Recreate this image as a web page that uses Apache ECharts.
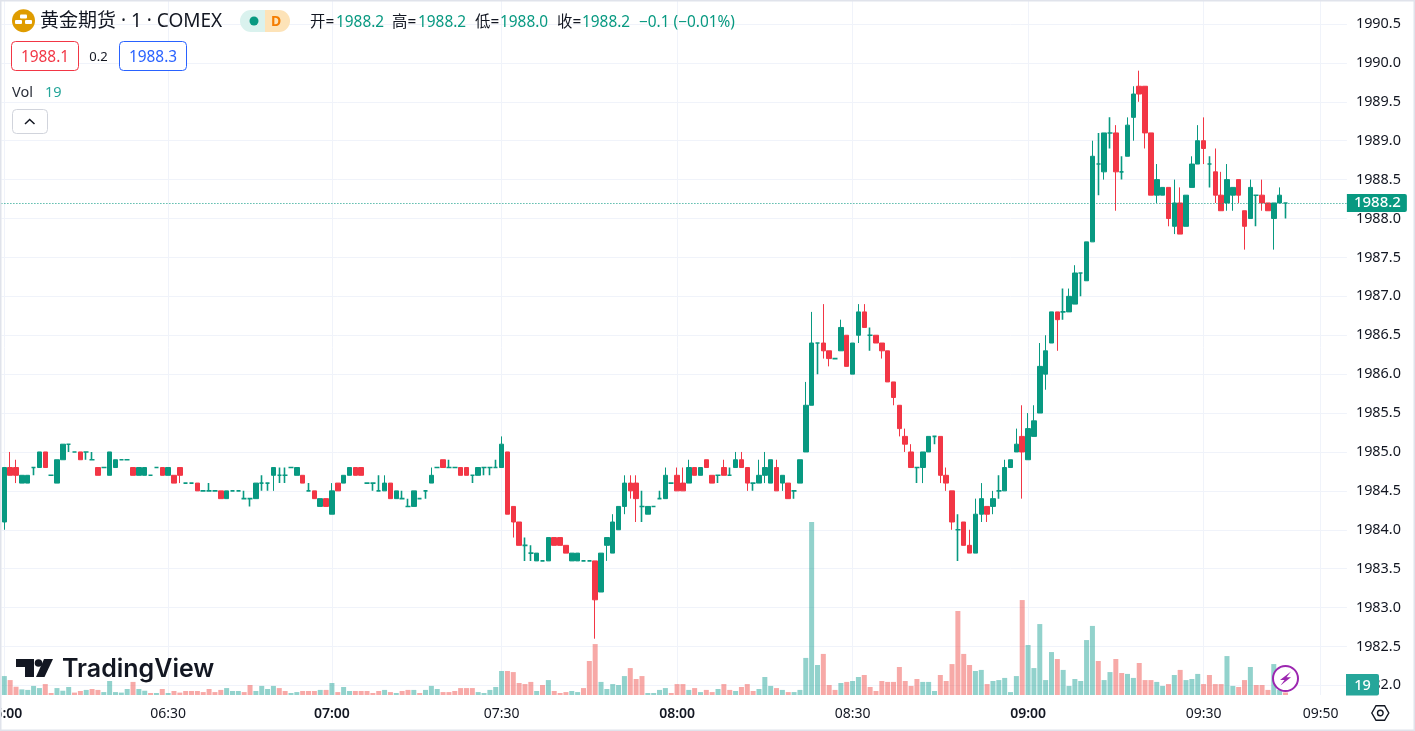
<!DOCTYPE html>
<html><head><meta charset="utf-8">
<style>html,body{margin:0;padding:0;background:#fff;overflow:hidden}#c{width:1415px;height:731px}</style>
<script src="https://cdn.jsdelivr.net/npm/echarts@6/dist/echarts.min.js"></script>
</head><body><div id="c"></div>
<script>
// [open, close, low, high] per one-minute bar
const candles = [
[1984.1,1984.8,1984.0,1984.8],[1984.8,1984.7,1984.7,1985.0],[1984.8,1984.7,1984.6,1984.9],[1984.6,1984.7,1984.6,1984.7],[1984.6,1984.7,1984.6,1984.7],
[1984.8,1984.8,1984.7,1984.8],[1984.8,1985.0,1984.8,1985.0],[1985.0,1984.8,1984.8,1985.0],[1984.7,1984.7,1984.7,1984.7],[1984.6,1984.9,1984.6,1984.9],
[1984.9,1985.1,1984.9,1985.1],[1985.1,1985.1,1985.0,1985.1],[1985.0,1985.0,1985.0,1985.0],[1985.0,1984.9,1984.9,1985.0],[1985.0,1985.0,1984.9,1985.0],
[1984.9,1984.9,1984.9,1985.0],[1984.8,1984.7,1984.7,1984.8],[1984.8,1984.8,1984.8,1984.8],[1984.7,1985.0,1984.7,1985.0],[1984.8,1984.9,1984.8,1984.9],
[1984.9,1984.9,1984.9,1984.9],[1984.9,1984.9,1984.9,1984.9],[1984.8,1984.7,1984.7,1984.8],[1984.7,1984.8,1984.7,1984.8],[1984.7,1984.8,1984.7,1984.8],
[1984.7,1984.7,1984.7,1984.7],[1984.8,1984.8,1984.8,1984.8],[1984.8,1984.7,1984.7,1984.8],[1984.7,1984.8,1984.7,1984.8],[1984.7,1984.6,1984.6,1984.7],
[1984.8,1984.7,1984.6,1984.8],[1984.6,1984.6,1984.6,1984.6],[1984.6,1984.6,1984.6,1984.6],[1984.6,1984.5,1984.5,1984.6],[1984.5,1984.5,1984.5,1984.5],
[1984.5,1984.5,1984.5,1984.6],[1984.5,1984.5,1984.5,1984.5],[1984.5,1984.4,1984.4,1984.5],[1984.4,1984.5,1984.4,1984.5],[1984.5,1984.5,1984.5,1984.5],
[1984.5,1984.5,1984.5,1984.5],[1984.4,1984.4,1984.4,1984.5],[1984.4,1984.4,1984.3,1984.4],[1984.4,1984.6,1984.4,1984.6],[1984.6,1984.6,1984.5,1984.7],
[1984.6,1984.6,1984.5,1984.6],[1984.7,1984.8,1984.5,1984.8],[1984.7,1984.7,1984.6,1984.8],[1984.7,1984.7,1984.6,1984.8],[1984.8,1984.8,1984.8,1984.8],
[1984.7,1984.8,1984.7,1984.8],[1984.7,1984.6,1984.6,1984.7],[1984.5,1984.5,1984.5,1984.6],[1984.5,1984.4,1984.4,1984.5],[1984.3,1984.4,1984.3,1984.4],
[1984.4,1984.3,1984.3,1984.4],[1984.2,1984.5,1984.2,1984.6],[1984.6,1984.5,1984.5,1984.6],[1984.6,1984.7,1984.6,1984.7],[1984.7,1984.8,1984.7,1984.8],
[1984.8,1984.7,1984.7,1984.8],[1984.8,1984.7,1984.7,1984.8],[1984.6,1984.6,1984.6,1984.6],[1984.6,1984.6,1984.5,1984.6],[1984.5,1984.5,1984.5,1984.7],
[1984.5,1984.6,1984.5,1984.7],[1984.6,1984.4,1984.4,1984.6],[1984.4,1984.5,1984.4,1984.5],[1984.4,1984.4,1984.4,1984.5],[1984.3,1984.3,1984.3,1984.4],
[1984.3,1984.5,1984.3,1984.5],[1984.4,1984.4,1984.4,1984.4],[1984.5,1984.5,1984.4,1984.5],[1984.6,1984.7,1984.6,1984.8],[1984.8,1984.8,1984.8,1984.8],
[1984.9,1984.8,1984.8,1984.9],[1984.8,1984.8,1984.8,1984.9],[1984.8,1984.8,1984.8,1984.8],[1984.8,1984.7,1984.7,1984.8],[1984.8,1984.7,1984.7,1984.8],
[1984.7,1984.7,1984.6,1984.7],[1984.7,1984.8,1984.7,1984.8],[1984.8,1984.8,1984.7,1984.8],[1984.8,1984.8,1984.7,1984.8],[1984.8,1984.8,1984.8,1984.9],
[1984.8,1985.1,1984.8,1985.2],[1985.0,1984.2,1984.2,1985.0],[1984.3,1984.1,1983.9,1984.3],[1984.1,1983.8,1983.8,1984.1],[1983.8,1983.8,1983.6,1983.9],
[1983.7,1983.7,1983.6,1983.8],[1983.6,1983.7,1983.6,1983.7],[1983.6,1983.6,1983.6,1983.6],[1983.6,1983.9,1983.6,1983.9],[1983.9,1983.8,1983.8,1983.9],
[1983.9,1983.8,1983.8,1983.9],[1983.8,1983.7,1983.7,1983.8],[1983.6,1983.7,1983.6,1983.7],[1983.6,1983.7,1983.6,1983.7],[1983.6,1983.6,1983.6,1983.6],
[1983.6,1983.6,1983.6,1983.6],[1983.6,1983.1,1982.6,1983.6],[1983.2,1983.7,1983.2,1983.7],[1983.8,1983.9,1983.6,1983.9],[1983.7,1984.1,1983.7,1984.2],
[1984.0,1984.3,1984.0,1984.3],[1984.3,1984.6,1984.2,1984.7],[1984.6,1984.5,1984.4,1984.7],[1984.6,1984.4,1984.1,1984.7],[1984.3,1984.3,1984.1,1984.5],
[1984.2,1984.3,1984.2,1984.3],[1984.3,1984.3,1984.3,1984.3],[1984.4,1984.4,1984.4,1984.5],[1984.4,1984.7,1984.4,1984.8],[1984.6,1984.6,1984.6,1984.6],
[1984.7,1984.5,1984.5,1984.8],[1984.6,1984.5,1984.5,1984.8],[1984.6,1984.8,1984.6,1984.9],[1984.8,1984.7,1984.7,1984.8],[1984.7,1984.8,1984.7,1984.8],
[1984.9,1984.8,1984.8,1984.9],[1984.7,1984.6,1984.6,1984.7],[1984.7,1984.7,1984.6,1984.7],[1984.8,1984.7,1984.7,1984.9],[1984.7,1984.7,1984.7,1984.8],
[1984.8,1984.9,1984.8,1985.0],[1984.9,1984.8,1984.8,1985.0],[1984.8,1984.6,1984.5,1984.8],[1984.6,1984.6,1984.5,1984.6],[1984.6,1984.7,1984.6,1984.9],
[1984.7,1984.8,1984.6,1985.0],[1984.6,1984.9,1984.6,1984.9],[1984.8,1984.5,1984.5,1984.9],[1984.6,1984.7,1984.5,1984.7],[1984.6,1984.4,1984.4,1984.6],
[1984.5,1984.5,1984.4,1984.5],[1984.6,1984.9,1984.6,1984.9],[1985.0,1985.6,1985.0,1985.9],[1985.6,1986.4,1985.6,1986.8],[1986.4,1986.4,1986.0,1986.4],
[1986.4,1986.3,1986.2,1986.9],[1986.3,1986.2,1986.1,1986.3],[1986.2,1986.2,1986.2,1986.2],[1986.3,1986.6,1986.3,1986.7],[1986.5,1986.1,1986.1,1986.5],
[1986.0,1986.4,1986.0,1986.4],[1986.5,1986.8,1986.4,1986.9],[1986.8,1986.6,1986.6,1986.9],[1986.5,1986.5,1986.3,1986.6],[1986.5,1986.4,1986.4,1986.5],
[1986.4,1986.3,1986.2,1986.4],[1986.3,1985.9,1985.9,1986.3],[1985.9,1985.7,1985.6,1985.9],[1985.6,1985.3,1985.2,1985.6],[1985.2,1985.1,1985.0,1985.3],
[1985.0,1984.8,1984.8,1985.1],[1984.8,1984.8,1984.6,1984.8],[1984.8,1985.0,1984.6,1985.0],[1985.0,1985.2,1985.0,1985.2],[1985.2,1985.2,1985.1,1985.2],
[1985.2,1984.7,1984.6,1985.2],[1984.7,1984.6,1984.5,1984.8],[1984.5,1984.1,1984.0,1984.5],[1984.0,1984.0,1983.6,1984.2],[1984.1,1983.8,1983.8,1984.1],
[1983.8,1983.7,1983.7,1984.0],[1983.7,1984.2,1983.7,1984.4],[1984.2,1984.4,1984.1,1984.6],[1984.3,1984.2,1984.1,1984.3],[1984.3,1984.4,1984.2,1984.5],
[1984.5,1984.5,1984.4,1984.7],[1984.5,1984.8,1984.5,1984.9],[1984.8,1984.9,1984.8,1984.9],[1985.0,1985.1,1985.0,1985.3],[1985.2,1985.0,1984.4,1985.6],
[1984.9,1985.3,1984.9,1985.5],[1985.2,1985.4,1985.2,1985.6],[1985.5,1986.1,1985.5,1986.4],[1986.0,1986.3,1985.8,1986.5],[1986.4,1986.8,1986.4,1986.8],
[1986.8,1986.7,1986.3,1986.8],[1986.8,1986.8,1986.7,1987.1],[1986.8,1987.0,1986.8,1987.1],[1986.9,1987.3,1986.9,1987.4],[1987.3,1987.3,1987.0,1987.3],
[1987.2,1987.7,1987.2,1987.7],[1987.7,1988.8,1987.7,1989.0],[1988.7,1988.7,1988.3,1989.1],[1988.6,1989.1,1988.5,1989.1],[1989.1,1989.1,1988.9,1989.3],
[1989.1,1988.6,1988.1,1989.2],[1988.6,1988.6,1988.5,1988.8],[1988.8,1989.2,1988.8,1989.3],[1989.3,1989.6,1989.0,1989.7],[1989.7,1989.6,1989.5,1989.9],
[1989.7,1989.1,1988.9,1989.7],[1989.1,1988.3,1988.3,1989.1],[1988.3,1988.5,1988.2,1988.7],[1988.3,1988.4,1988.3,1988.4],[1988.4,1988.0,1987.9,1988.4],
[1987.9,1988.2,1987.8,1988.5],[1988.2,1987.8,1987.8,1988.4],[1987.9,1988.3,1987.9,1988.3],[1988.4,1988.7,1988.4,1988.8],[1988.7,1989.0,1988.7,1989.2],
[1989.0,1988.9,1988.7,1989.3],[1988.7,1988.7,1988.4,1988.8],[1988.6,1988.3,1988.2,1988.9],[1988.3,1988.1,1988.1,1988.6],[1988.2,1988.5,1988.1,1988.7],
[1988.3,1988.4,1988.1,1988.4],[1988.5,1988.3,1988.2,1988.5],[1988.1,1987.9,1987.6,1988.1],[1988.0,1988.4,1988.0,1988.5],[1988.3,1988.3,1987.9,1988.3],
[1988.3,1988.2,1988.1,1988.5],[1988.2,1988.1,1988.1,1988.2],[1988.0,1988.2,1987.6,1988.2],[1988.2,1988.3,1988.2,1988.4],[1988.2,1988.2,1988.0,1988.2]
];
const volumes = [
142,112,62,42,38,68,52,82,15,52,
32,60,18,30,38,45,38,22,105,22,
18,45,98,45,32,15,15,45,15,30,
18,30,30,30,22,45,22,38,52,30,
30,22,75,30,68,45,68,52,30,15,
22,30,30,30,38,38,90,22,60,30,
30,30,30,15,30,38,22,15,30,38,
38,15,38,68,45,22,22,30,52,52,
52,22,15,38,60,180,180,172,90,82,
98,30,75,112,30,15,22,30,22,52,
255,382,98,45,82,75,142,202,120,142,
15,15,38,52,15,82,82,38,52,22,
38,22,45,82,38,30,60,82,30,45,
135,68,52,38,22,22,38,278,1298,225,
308,75,38,90,98,105,135,150,60,30,
105,98,98,210,105,68,120,98,98,30,
150,105,232,630,308,225,180,188,82,105,
112,128,22,142,712,375,202,532,112,322,
270,188,68,120,105,412,518,255,112,172,
270,165,158,128,240,112,112,98,68,82,
150,188,112,120,158,82,150,82,82,292,
68,60,112,210,75,75,38,232,38,19
];
const tickIndexes = [0,28,56,85,115,145,175,205,225];
const tickLabels = ['06:00','06:30','07:00','07:30','08:00','08:30','09:00','09:30','09:50'];
const boldLabels = ['06:00','07:00','08:00','09:00'];
const lastPrice = 1988.2;
const lastVolume = 19;
const headerValues = {open:'1988.2',high:'1988.2',low:'1988.0',close:'1988.2',change:'−0.1 (−0.01%)',bid:'1988.1',spread:'0.2',ask:'1988.3'};

const UP='#089981', DOWN='#f23645', GRID='#f0f3fa', INK='#131722';
const SLOTS=230;
const categories=Array.from({length:SLOTS},(_,i)=>{const k=tickIndexes.indexOf(i);return k>=0?tickLabels[k]:'m'+i;});
const isTick=(i)=>tickIndexes.includes(i);

let dir=1;
const volumeData=volumes.map((v,i)=>{
  const c=candles[i];
  if(c[1]>c[0])dir=1; else if(c[1]<c[0])dir=-1;
  else if(i>0&&c[1]>candles[i-1][1])dir=1; else if(i>0&&c[1]<candles[i-1][1])dir=-1;
  return {value:v,itemStyle:{color:dir>0?'rgba(38,166,154,.5)':'rgba(239,83,80,.5)'}};
});
const candleData=candles.map(c=>c[0]===c[1]?{value:c,itemStyle:{borderWidth:1.6}}:c);

const F='"Noto Sans","Noto Sans CJK SC",sans-serif';
const txt=(text,x,y,fill,size,extra)=>({type:'text',z:50,style:Object.assign({text,x,y,fill,font:`${size}px ${F}`,textVerticalAlign:'middle'},extra||{})});
const rect=(x,y,w,h,r,style)=>({type:'rect',z:49,shape:{x,y,width:w,height:h,r},style});
const poly=(points,style)=>({type:'polygon',z:50,shape:{points},style});
const line=(points,style)=>({type:'polyline',z:50,shape:{points},style});
const circ=(cx,cy,r,style)=>({type:'circle',z:49,shape:{cx,cy,r},style});

const graphicEls=[
  rect(0.5,0.5,1414,730,0,{fill:'none',stroke:'#e0e3eb',lineWidth:2}),
  // symbol icon
  circ(23.5,20.7,11.5,{fill:'#df9c00'}),
  rect(20,14.5,7,4,1,{fill:'#fff'}),rect(15,20,7,4,1,{fill:'#fff'}),rect(25,20,7,4,1,{fill:'#fff'}),
  txt('黄金期货 · 1 · COMEX',40,22,INK,19),
  // status pill
  rect(240,10,25,22,[11,0,0,11],{fill:'#daf2ee'}),rect(265,10,25,22,[0,11,11,0],{fill:'#fde3b8'}),
  circ(254,21,4.5,{fill:UP}),
  txt('D',276,22,'#f57c00',14,{textAlign:'center',font:`bold 14px ${F}`}),
  // OHLC
  txt('开=',310,23,INK,15.4),txt(headerValues.open,336,23,UP,15.4),
  txt('高=',392,23,INK,15.4),txt(headerValues.high,418,23,UP,15.4),
  txt('低=',475,23,INK,15.4),txt(headerValues.low,500,23,UP,15.4),
  txt('收=',557,23,INK,15.4),txt(headerValues.close,582,23,UP,15.4),
  txt(headerValues.change,639,23,UP,15.4),
  // bid/ask
  rect(11.5,41.5,67,29,4,{fill:'#fff',stroke:DOWN,lineWidth:1}),
  txt(headerValues.bid,45,58,DOWN,15.4,{textAlign:'center'}),
  txt(headerValues.spread,98.5,57,INK,13,{textAlign:'center'}),
  rect(119.5,41.5,67,29,4,{fill:'#fff',stroke:'#2962ff',lineWidth:1}),
  txt(headerValues.ask,153,58,'#2962ff',15.4,{textAlign:'center'}),
  // Vol legend
  txt('Vol',12,92.5,'#2a2e39',14.5),txt(String(lastVolume),45,92.5,'#26a69a',14.5),
  rect(12.5,109.5,35,24,4,{fill:'#fff',stroke:'#d1d4dc',lineWidth:1}),
  line([[25,124],[29.7,119.5],[34.5,124]],{fill:'none',stroke:INK,lineWidth:1.5}),
  // TradingView mark
  poly([[16,659],[34,659],[34,677],[25,677],[25,667],[16,667]],{fill:INK}),
  circ(38.5,663,3.8,{fill:INK}),
  poly([[44,659],[53,659],[44.5,677],[36,677]],{fill:INK}),
  {type:'text',z:50,style:{text:'TradingView',x:62,y:669,fill:INK,font:'600 25px Inter',textVerticalAlign:'middle'}},
  // lightning badge
  circ(1285.5,678.5,12.5,{fill:'#fff',stroke:'#9c27b0',lineWidth:2}),
  poly([[1291,671.5],[1280,680],[1284.5,680],[1280.5,685.5],[1291,677.3],[1286.5,677.3]],{fill:'#9c27b0'}),
  // volume tag
  rect(1346,674,33,21.5,[0,2,2,0],{fill:'#26a69a'}),
  txt(String(lastVolume),1362.5,685.5,'#fff',14.5,{textAlign:'center',font:`500 14.5px ${F}`}),
  // settings
  poly([[1371.8,713],[1376,705.7],[1384.6,705.7],[1388.8,713],[1384.6,720.3],[1376,720.3]],{fill:'none',stroke:INK,lineWidth:1.4}),
  circ(1380.3,713,2.8,{fill:'none',stroke:INK,lineWidth:1.4}),
];

const chart=echarts.init(document.getElementById('c'),null,{renderer:'canvas',width:1415,height:731});
const gridLeft=1.4, gridWidth=SLOTS*5.85;
chart.setOption({
  animation:false,backgroundColor:'#fff',
  textStyle:{fontFamily:F},
  grid:[
    {left:gridLeft,width:gridWidth,top:24,height:661.4,outerBoundsMode:'none'},
    {left:gridLeft,width:gridWidth,top:0,height:695,outerBoundsMode:'none'}
  ],
  xAxis:[
    {type:'category',gridIndex:0,data:categories,axisLine:{show:false},axisTick:{show:false},axisLabel:{show:false},splitLine:{show:false}},
    {type:'category',gridIndex:1,data:categories,axisLine:{show:false},axisTick:{show:false},
     splitLine:{show:true,interval:(i)=>isTick(i),alignWithLabel:true,lineStyle:{color:GRID,width:1}},
     axisLabel:{interval:(i)=>isTick(i),color:INK,fontSize:14,fontFamily:F,margin:12,hideOverlap:false,
       formatter:(v)=>boldLabels.includes(v)?`{b|${v}}`:v,
       rich:{b:{fontWeight:600,fontSize:14,color:INK,fontFamily:F}}}}
  ],
  yAxis:[
    {type:'value',gridIndex:0,position:'right',min:1982,max:1990.5,interval:0.5,scale:true,
     axisLine:{show:false},axisTick:{show:false},
     axisLabel:{color:INK,fontSize:14.4,fontFamily:F,margin:9,padding:[3,0,0,0],formatter:(v)=>v.toFixed(1)},
     splitLine:{show:true,lineStyle:{color:GRID,width:1}}},
    {type:'value',gridIndex:1,min:0,max:5212,axisLine:{show:false},axisTick:{show:false},axisLabel:{show:false},splitLine:{show:false}}
  ],
  series:[
    {type:'bar',name:'Vol',xAxisIndex:1,yAxisIndex:1,data:volumeData,barWidth:5,z:1,silent:true},
    {type:'candlestick',name:'COMEX',xAxisIndex:0,yAxisIndex:0,data:candleData,barWidth:5,z:3,
     itemStyle:{color:UP,color0:DOWN,borderColor:UP,borderColor0:DOWN,borderColorDoji:UP,borderWidth:1},
     markLine:{silent:true,symbol:'none',animation:false,
       lineStyle:{color:UP,type:[1,2],width:1},
       label:{show:true,position:'end',distance:0,formatter:()=>lastPrice.toFixed(1),color:'#fff',backgroundColor:UP,
         fontSize:15,fontFamily:F,fontWeight:500,padding:[2,6,1,7],borderRadius:[0,2,2,0]},
       data:[{yAxis:lastPrice}]}}
  ],
  graphic:{elements:graphicEls}
});
</script></body></html>
